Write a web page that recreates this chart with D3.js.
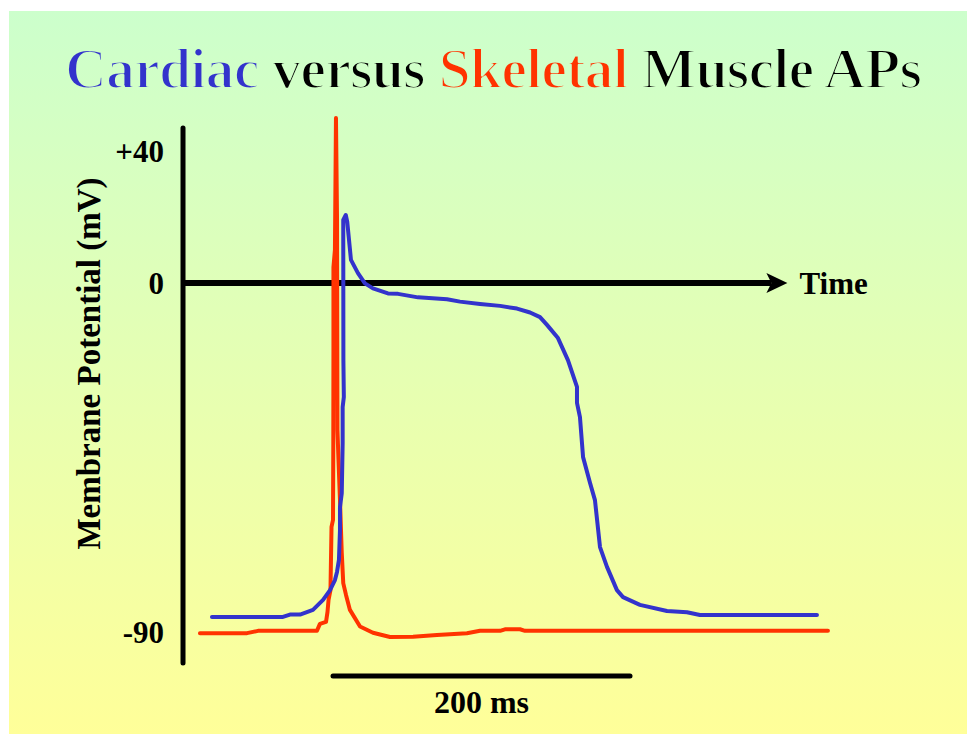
<!DOCTYPE html>
<html>
<head>
<meta charset="utf-8">
<script src="https://cdn.jsdelivr.net/npm/d3@7"></script>
<style>
  html, body { margin: 0; padding: 0; background: #ffffff; }
  svg { display: block; }
</style>
</head>
<body>
<script>
// Action potential traces: time in ms (0 = start of the scale bar), potential in mV
const cardiacTime = [-81.5, -33.7, -29, -22.2, -13.5, -6.7, -2, 1.3, 2.7, 4, 4.7, 4.7, 5.9, 6.5, 6.5, 7.3, 7, 6.9, 8.6, 9.6, 12.1, 16.8, 21.5, 26.9, 37, 43.8, 57.2, 76.8, 85.5, 99, 112.5, 123.9, 132.7, 139.4, 144.1, 151.5, 158.2, 164.3, 164.3, 166.3, 168.4, 173.1, 176.4, 179.8, 184.5, 191.2, 195.3, 206.7, 224.9, 238.4, 247.1, 325.9];
const cardiacMv = [-86.1, -86.1, -85.5, -85.5, -84.3, -81.7, -79.2, -76.6, -74.5, -71.4, -63.7, -57.8, -54.2, -41.3, -32, -29.4, -19.9, 19.1, 20.6, 18.5, 7, 3, -0.1, -1.4, -2.7, -2.8, -3.7, -4.2, -4.8, -5.4, -5.9, -6.6, -7.6, -8.8, -10.8, -14.2, -19.9, -26.8, -30.9, -34.6, -44.9, -51.6, -56, -68.1, -73.2, -79.2, -81, -83, -84.6, -84.9, -85.6, -85.6];

const skeletalTime = [-89.6, -57.9, -50.5, -10.8, -8.8, -4.7, -3.7, -3, -1.7, -1, 0, 0.2, 0.3, 0.3, 1.3, 2, 2.7, 3, 3.7, 4.7, 5.9, 6.9, 8.8, 11.4, 18.2, 26.9, 38.4, 53.9, 70, 90.2, 99, 112.5, 115.8, 125.9, 129.3, 333.3];
const skeletalMv = [-90.3, -90.3, -89.7, -89.7, -87.9, -87.4, -84.8, -81.7, -79.2, -62.9, -61.1, -41.3, -17.3, 4.8, 10, 50, 20, -37.9, -45.6, -56, -69.6, -77.4, -80.5, -84.3, -88.6, -90.2, -91.3, -91.2, -90.8, -90.3, -89.7, -89.7, -89.3, -89.3, -89.7, -89.7];

// Voltage axis ticks
const tickValues = [40, 0, -90];
const tickLabels = ["+40", "0", "-90"];

// Extents of the drawn axes and the time scale bar
const voltageAxisExtent = [-98, 47];
const timeAxisExtent = [-101, 306];
const scaleBarMs = [0, 200];
const scaleBarLabel = "200 ms";

const width = 967, height = 734;
const blue = "#3333cc", red = "#ff3300";
const serif = '"Liberation Serif", "Times New Roman", Times, serif';
const bgTop = "#ccffcc", bgBottom = "#ffff99";

const svg = d3.select("body").append("svg")
  .attr("width", width).attr("height", height)
  .attr("font-family", serif);

// Slide background: green fading into yellow
const defs = svg.append("defs");
const grad = defs.append("linearGradient")
  .attr("id", "bg").attr("gradientUnits", "userSpaceOnUse")
  .attr("x1", 0).attr("y1", 11).attr("x2", 0).attr("y2", height);
grad.append("stop").attr("offset", "0%").attr("stop-color", bgTop);
grad.append("stop").attr("offset", "100%").attr("stop-color", bgBottom);
svg.append("rect").attr("x", 9).attr("y", 11)
  .attr("width", width - 9).attr("height", height - 11)
  .attr("fill", "url(#bg)");

// Scales (schematic voltage axis: the positive part is compressed)
const x = d3.scaleLinear().domain([-100, 300]).range([184.5, 778.5]);
const y = d3.scaleLinear().domain([-90, 0, 40]).range([632, 283, 151]);

// Title: the serif face is outlined in the background paint to give a lighter stroke
const title = svg.append("text")
  .attr("x", 65).attr("y", 88)
  .attr("font-size", 58).attr("font-weight", "bold")
  .attr("textLength", 857).attr("lengthAdjust", "spacing")
  .attr("stroke", "url(#bg)").attr("stroke-width", 2.2)
  .attr("stroke-linejoin", "round");
title.append("tspan").attr("fill", blue).text("Cardiac");
title.append("tspan").attr("fill", "#000").text(" versus ");
title.append("tspan").attr("fill", red).text("Skeletal");
title.append("tspan").attr("fill", "#000").text(" Muscle APs");

// Voltage axis
svg.append("line")
  .attr("x1", x(timeAxisExtent[0])).attr("x2", x(timeAxisExtent[0]))
  .attr("y1", y(voltageAxisExtent[1])).attr("y2", y(voltageAxisExtent[0]))
  .attr("stroke", "#000").attr("stroke-width", 5).attr("stroke-linecap", "round");

// Time axis with arrow head
const tipX = x(timeAxisExtent[1]);
svg.append("line")
  .attr("x1", x(timeAxisExtent[0])).attr("x2", tipX - 16)
  .attr("y1", y(0)).attr("y2", y(0))
  .attr("stroke", "#000").attr("stroke-width", 6);
svg.append("path")
  .attr("d", `M${tipX},${y(0)} L${tipX - 21},${y(0) - 10} L${tipX - 16},${y(0)} L${tipX - 21},${y(0) + 10} Z`)
  .attr("fill", "#000");

svg.append("text")
  .attr("x", tipX + 12).attr("y", y(0) + 11)
  .attr("font-size", 31).attr("font-weight", "bold")
  .text("Time");

// Tick labels
svg.selectAll(".tick-label").data(tickValues).join("text")
  .attr("class", "tick-label")
  .attr("x", 164).attr("y", d => y(d))
  .attr("dy", "0.35em")
  .attr("text-anchor", "end")
  .attr("font-size", 31).attr("font-weight", "bold")
  .text((d, i) => tickLabels[i]);

// Axis title
svg.append("text")
  .attr("transform", `translate(100,${(182 + 545) / 2}) rotate(-90)`)
  .attr("text-anchor", "middle")
  .attr("font-size", 33).attr("font-weight", "bold")
  .text("Membrane Potential (mV)");

// Traces
const line = d3.line().x(d => x(d[0])).y(d => y(d[1]));
const skeletal = skeletalTime.map((t, i) => [t, skeletalMv[i]]);
const cardiac = cardiacTime.map((t, i) => [t, cardiacMv[i]]);

svg.append("path").datum(skeletal)
  .attr("d", line)
  .attr("fill", "none").attr("stroke", red).attr("stroke-width", 4)
  .attr("stroke-linejoin", "round").attr("stroke-linecap", "round");

svg.append("path").datum(cardiac)
  .attr("d", line)
  .attr("fill", "none").attr("stroke", blue).attr("stroke-width", 4)
  .attr("stroke-linejoin", "round").attr("stroke-linecap", "round");

// Time scale bar
svg.append("line")
  .attr("x1", x(scaleBarMs[0])).attr("x2", x(scaleBarMs[1]))
  .attr("y1", 676).attr("y2", 676)
  .attr("stroke", "#000").attr("stroke-width", 5).attr("stroke-linecap", "round");
svg.append("text")
  .attr("x", (x(scaleBarMs[0]) + x(scaleBarMs[1])) / 2).attr("y", 713)
  .attr("text-anchor", "middle")
  .attr("font-size", 32).attr("font-weight", "bold")
  .text(scaleBarLabel);
</script>
</body>
</html>
